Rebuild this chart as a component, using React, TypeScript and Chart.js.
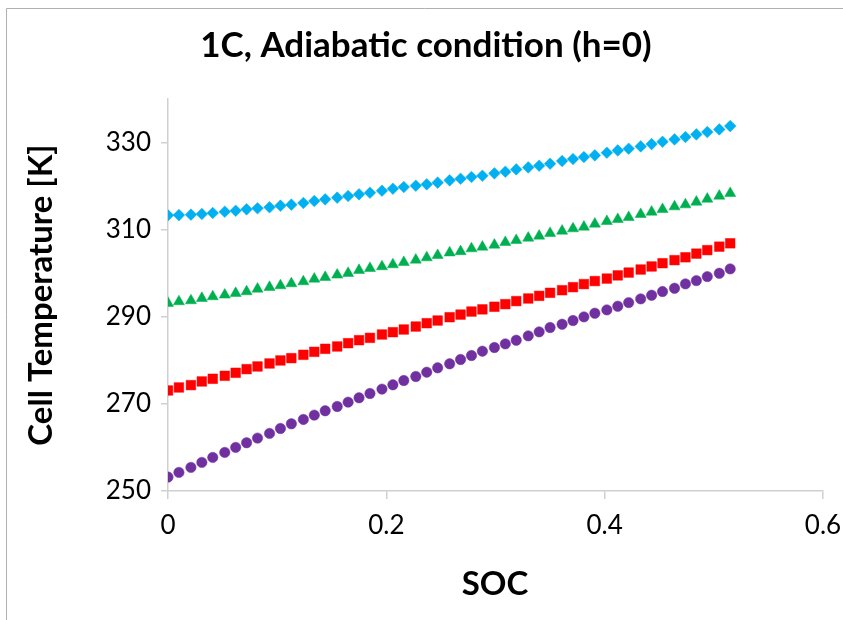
import React, { useEffect, useRef } from "react";
import { Chart, registerables } from "chart.js";

Chart.register(...registerables);

const TITLE = "1C, Adiabatic condition (h=0)";
const X_TITLE = "SOC";
const Y_TITLE = "Cell Temperature [K]";

const X_TICKS = [0, 0.2, 0.4, 0.6];
const Y_TICKS = [250, 270, 290, 310, 330];

const SOC = [
  0, 0.010, 0.021, 0.031, 0.041, 0.052, 0.062, 0.072, 0.082, 0.093,
  0.103, 0.113, 0.124, 0.134, 0.144, 0.155, 0.165, 0.175, 0.185, 0.196,
  0.206, 0.216, 0.227, 0.237, 0.247, 0.258, 0.268, 0.278, 0.288, 0.299,
  0.309, 0.319, 0.330, 0.340, 0.350, 0.361, 0.371, 0.381, 0.391, 0.402,
  0.412, 0.422, 0.433, 0.443, 0.453, 0.464, 0.474, 0.484, 0.494, 0.505,
  0.515,
];

const T_START_313 = [
  313.3, 313.35, 313.45, 313.6, 313.83, 314.13, 314.36, 314.67, 314.9, 315.13,
  315.51, 315.74, 316.12, 316.58, 316.96, 317.35, 317.73, 318.11, 318.49, 318.95,
  319.41, 319.79, 320.1, 320.4, 320.79, 321.32, 321.7, 322.09, 322.39, 322.93,
  323.31, 323.84, 324.3, 324.69, 325.14, 325.76, 326.21, 326.67, 327.06, 327.67,
  328.2, 328.58, 329.12, 329.65, 330.19, 330.73, 331.26, 331.87, 332.41, 333.02,
  333.78,
];

const T_START_293 = [
  293.11, 293.49, 293.72, 294.25, 294.64, 295.02, 295.4, 295.78, 296.39, 296.78,
  297.16, 297.62, 298.08, 298.69, 299.07, 299.61, 299.99, 300.68, 301.13, 301.52,
  301.98, 302.51, 303.05, 303.58, 304.12, 304.7, 305.0, 305.65, 306.03, 306.49,
  307.1, 307.56, 308.1, 308.56, 309.17, 309.7, 310.24, 310.62, 311.31, 311.92,
  312.38, 312.84, 313.53, 314.06, 314.67, 315.28, 315.74, 316.35, 317.04, 317.73,
  318.34,
];

const T_START_273 = [
  273.08, 273.77, 274.31, 275.15, 275.76, 276.45, 277.14, 277.98, 278.59, 279.28,
  279.97, 280.5, 281.27, 281.95, 282.64, 283.18, 283.94, 284.63, 285.16, 285.93,
  286.46, 287.08, 287.76, 288.53, 289.14, 289.9, 290.5, 291.2, 291.7, 292.3,
  292.9, 293.6, 294.2, 294.8, 295.5, 296.1, 296.8, 297.5, 298.2, 298.77,
  299.5, 300.15, 300.85, 301.55, 302.3, 303.0, 303.66, 304.5, 305.3, 306.1,
  306.87,
];

const T_START_253 = [
  253.2, 254.27, 255.42, 256.57, 257.71, 258.86, 260.01, 261.08, 262.15, 263.22,
  264.36, 265.43, 266.43, 267.42, 268.42, 269.41, 270.4, 271.4, 272.39, 273.39,
  274.38, 275.37, 276.29, 277.28, 278.28, 279.2, 280.2, 281.11, 282.1, 282.94,
  283.78, 284.62, 285.62, 286.54, 287.53, 288.29, 289.14, 289.98, 290.82, 291.58,
  292.42, 293.26, 294.11, 294.95, 295.79, 296.55, 297.55, 298.31, 299.23, 299.99,
  300.99,
];

const FONT = "Lato, 'Open Sans', sans-serif";

const toPoints = (ys: number[]) => SOC.map((x, i) => ({ x, y: ys[i] }));

const decorPlugin = {
  id: "decor",
  beforeDraw(chart: any) {
    const ctx = chart.ctx;
    ctx.save();
    ctx.fillStyle = "#ffffff";
    ctx.fillRect(0, 0, chart.width, chart.height);
    ctx.strokeStyle = "#b0b0b0";
    ctx.lineWidth = 1;
    ctx.beginPath();
    ctx.moveTo(6.5, chart.height);
    ctx.lineTo(6.5, 8.5);
    ctx.lineTo(chart.width, 8.5);
    ctx.stroke();
    ctx.restore();
  },
  afterDraw(chart: any) {
    const ctx = chart.ctx;
    const area = chart.chartArea;
    ctx.save();
    ctx.fillStyle = "#000000";
    ctx.textAlign = "center";
    ctx.textBaseline = "middle";
    ctx.font = `bold 35px ${FONT}`;
    ctx.fillText(TITLE, 426, 46);
    ctx.font = `bold 33px ${FONT}`;
    ctx.fillText(X_TITLE, 495, 584);
    ctx.translate(41, (area.top + area.bottom) / 2);
    ctx.rotate(-Math.PI / 2);
    ctx.fillText(Y_TITLE, 0, 0);
    ctx.restore();
  },
};

export default function App() {
  const ref = useRef<HTMLCanvasElement | null>(null);

  useEffect(() => {
    if (!ref.current) return;
    const mk = (label: string, data: number[], color: string, style: string, r: number) => ({
      label,
      data: toPoints(data),
      showLine: false,
      pointStyle: style,
      pointRadius: r,
      pointHoverRadius: r,
      backgroundColor: color,
      borderColor: color,
      pointBorderWidth: 0.5,
    });
    const chart = new Chart(ref.current, {
      type: "scatter",
      data: {
        datasets: [
          mk("313 K", T_START_313, "#00B0F0", "rectRot", 5.8),
          mk("293 K", T_START_293, "#00B050", "triangle", 6.4),
          mk("273 K", T_START_273, "#FF0000", "rect", 6.8),
          mk("253 K", T_START_253, "#7030A0", "circle", 5.2),
        ],
      },
      options: {
        responsive: false,
        animation: false,
        events: [],
        layout: { padding: { top: 99, right: 20, bottom: 0, left: 0 } },
        plugins: {
          legend: { display: false },
          title: { display: false },
          tooltip: { enabled: false },
        },
        scales: {
          x: {
            type: "linear",
            min: 0,
            max: 0.6,
            afterBuildTicks: (s: any) => {
              s.ticks = X_TICKS.map((v) => ({ value: v }));
            },
            afterFit: (s: any) => {
              s.height = 129;
              s.paddingLeft = 0;
              s.paddingRight = 0;
            },
            grid: {
              drawOnChartArea: false,
              drawTicks: true,
              tickLength: 8,
              color: "#d0d0d0",
              lineWidth: 1.5,
            },
            border: { color: "#d0d0d0", width: 1.5 },
            ticks: {
              color: "#000000",
              font: { family: FONT, size: 26 },
              padding: 11,
              maxRotation: 0,
              callback: (v: any) => String(v),
            },
          },
          y: {
            type: "linear",
            min: 250,
            max: 340,
            afterBuildTicks: (s: any) => {
              s.ticks = Y_TICKS.map((v) => ({ value: v }));
            },
            afterFit: (s: any) => {
              s.width = 168;
              s.paddingTop = 0;
              s.paddingBottom = 0;
            },
            grid: {
              drawOnChartArea: false,
              drawTicks: true,
              tickLength: 7,
              color: "#d0d0d0",
              lineWidth: 1.5,
            },
            border: { color: "#d0d0d0", width: 1.5 },
            ticks: {
              color: "#000000",
              font: { family: FONT, size: 26 },
              padding: 10,
              callback: (v: any) => String(v),
            },
          },
        },
      },
      plugins: [decorPlugin],
    } as any);
    return () => chart.destroy();
  }, []);

  return (
    <div style={{ position: "absolute", left: 0, top: 0, width: 843, height: 620 }}>
      <canvas ref={ref} width={843} height={620} style={{ display: "block" }} />
    </div>
  );
}
